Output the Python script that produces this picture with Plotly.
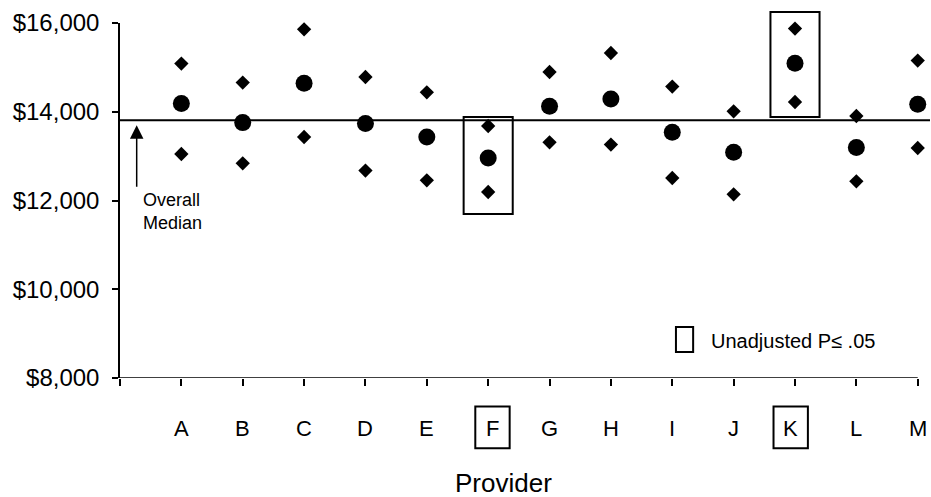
import plotly.graph_objects as go

providers = ["A", "B", "C", "D", "E", "F", "G", "H", "I", "J", "K", "L", "M"]
median_cost = [14184, 13755, 14641, 13733, 13431, 12958, 14123, 14287, 13537, 13086, 15092, 13192, 14168]
upper_limit = [15085, 14657, 15858, 14783, 14438, 13679, 14896, 15324, 14567, 14010, 15874, 13904, 15153]
lower_limit = [13048, 12838, 13431, 12674, 12455, 12192, 13312, 13260, 12507, 12140, 14220, 12432, 13183]
significant = ["F", "K"]
overall_median = 13807
y_ticks = [8000, 10000, 12000, 14000, 16000]
y_tick_labels = ["$8,000", "$10,000", "$12,000", "$14,000", "$16,000"]

Y_MIN, Y_MAX = 8000, 16000
FONT = "Liberation Sans, Arial, sans-serif"
xpos = list(range(1, len(providers) + 1))


def to_paper(v):
    return (v - Y_MIN) / (Y_MAX - Y_MIN)


fig = go.Figure()
fig.add_trace(go.Scatter(x=xpos, y=upper_limit, mode="markers",
                         marker=dict(symbol="diamond", size=11, color="black"),
                         cliponaxis=False, showlegend=False))
fig.add_trace(go.Scatter(x=xpos, y=lower_limit, mode="markers",
                         marker=dict(symbol="diamond", size=11, color="black"),
                         cliponaxis=False, showlegend=False))
fig.add_trace(go.Scatter(x=xpos, y=median_cost, mode="markers",
                         marker=dict(symbol="circle", size=17, color="black"),
                         cliponaxis=False, showlegend=False))

shapes = []
# overall median line
shapes.append(dict(type="line", xref="paper", yref="y", x0=0, x1=1,
                   y0=overall_median, y1=overall_median,
                   line=dict(color="black", width=2)))
# x axis line (ends at last category)
shapes.append(dict(type="line", xref="x", yref="y", x0=0, x1=len(providers),
                   y0=Y_MIN, y1=Y_MIN, line=dict(color="black", width=1.5)))
# boxes around significant providers' points and labels
box_ranges = {"F": (11696, 13882), "K": (13882, 16248)}
label_shift = {"F": 0.07, "K": -0.07}
for p in significant:
    i = providers.index(p) + 1
    y0, y1 = box_ranges[p]
    shapes.append(dict(type="rect", xref="x", yref="paper", x0=i - 0.4, x1=i + 0.4,
                       y0=to_paper(y0), y1=to_paper(y1),
                       line=dict(color="black", width=2)))
    c = i + label_shift[p]
    shapes.append(dict(type="rect", xref="x", yref="paper", x0=c - 0.28, x1=c + 0.28,
                       y0=-0.198, y1=-0.08, line=dict(color="black", width=2)))
# legend box
shapes.append(dict(type="rect", xref="x", yref="y", x0=9.06, x1=9.34,
                   y0=8586, y1=9149, line=dict(color="black", width=2)))

annotations = []
for i, p in enumerate(providers, start=1):
    annotations.append(dict(x=i + label_shift.get(p, 0), y=-0.1425, xref="x", yref="paper",
                            text=p, showarrow=False, xanchor="center", yanchor="middle",
                            font=dict(family=FONT, size=22, color="black")))
annotations.append(dict(x=0.473, y=-0.297, xref="paper", yref="paper", text="Provider",
                        showarrow=False, xanchor="center", yanchor="middle",
                        font=dict(family=FONT, size=26, color="black")))
annotations.append(dict(x=9.6, y=8827, xref="x", yref="y", text="Unadjusted P≤ .05",
                        showarrow=False, xanchor="left", yanchor="middle",
                        font=dict(family=FONT, size=20, color="black")))
annotations.append(dict(x=0.36, y=11760, xref="x", yref="y", text="Overall<br>Median",
                        showarrow=False, xanchor="left", yanchor="middle", align="left",
                        borderpad=0,
                        font=dict(family=FONT, size=18, color="black")))
annotations.append(dict(x=0.272, y=13695, xref="x", yref="y", ax=0.272, ay=12275,
                        axref="x", ayref="y", text="", showarrow=True,
                        arrowhead=2, arrowsize=1.8, arrowwidth=1.5, arrowcolor="black"))

fig.update_layout(
    width=931, height=497,
    margin=dict(l=120, r=1, t=23, b=119),
    paper_bgcolor="white", plot_bgcolor="white",
    font=dict(family=FONT, color="black"),
    shapes=shapes, annotations=annotations,
    xaxis=dict(range=[0, 13.2], showgrid=False, zeroline=False, showline=False,
               tickmode="array", tickvals=list(range(0, len(providers) + 1)),
               ticktext=[""] * (len(providers) + 1), ticks="outside", ticklen=7,
               tickwidth=1.5, tickcolor="black"),
    yaxis=dict(range=[Y_MIN, Y_MAX], showgrid=False, zeroline=False, showline=True,
               linecolor="black", linewidth=1.5, tickmode="array", tickvals=y_ticks,
               ticktext=y_tick_labels, ticks="outside", ticklen=6, tickwidth=1.5,
               tickcolor="black", ticklabelstandoff=8,
               tickfont=dict(family=FONT, size=24, color="black")),
)

fig.write_html("out.html")
